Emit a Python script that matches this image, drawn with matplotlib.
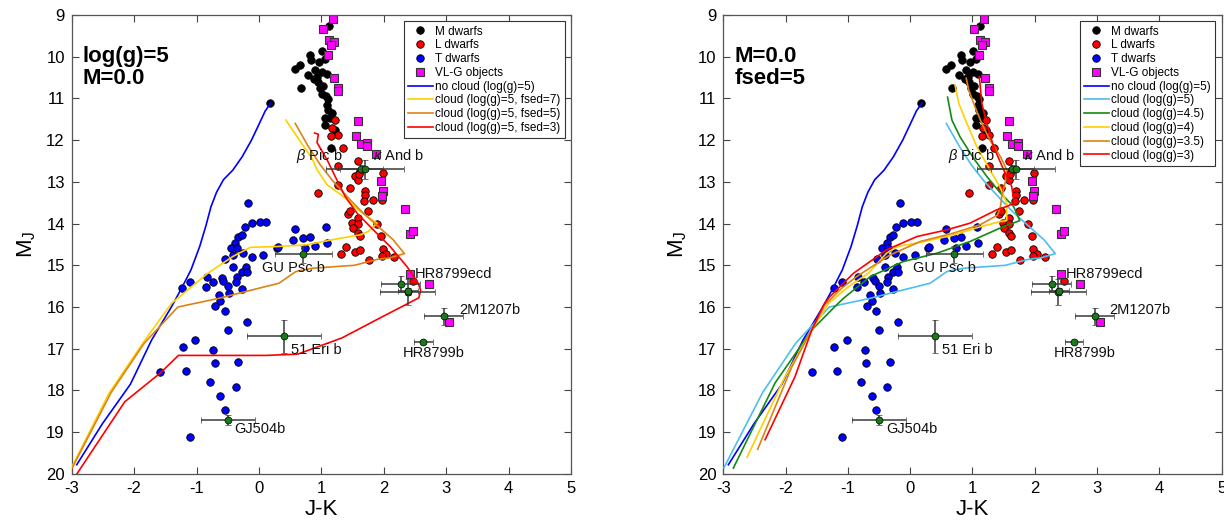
import numpy as np
import matplotlib
matplotlib.use("Agg")
from matplotlib import pyplot as plt

plt.rcParams.update({
    "font.family": ["Liberation Sans", "DejaVu Sans"],
    "font.size": 12,
    "axes.unicode_minus": False,
    "mathtext.fontset": "custom",
    "mathtext.rm": "Liberation Sans",
    "mathtext.it": "Liberation Sans:italic"})

# ---------------------------------------------------------------------------- #
# Field dwarfs (J-K, M_J)
# ---------------------------------------------------------------------------- #
m_jk = [1.12, 1.01, 0.82, 0.83, 0.96, 1.06, 0.65, 0.58, 0.90, 1.01, 1.09, 0.79, 0.88,
        0.95, 0.67, 0.98, 1.01, 1.11, 1.09, 1.11, 1.06, 1.14, 1.06, 1.22, 1.15, 0.18,
        1.17, 0.93, 1.03, 1.08]
m_mj = [9.26, 9.87, 9.97, 10.09, 10.13, 10.06, 10.21, 10.30, 10.33, 10.37, 10.41, 10.43, 10.53,
        10.61, 10.74, 10.75, 10.89, 11.02, 11.16, 11.28, 11.47, 11.48, 11.64, 11.76, 12.20, 11.10,
        11.36, 10.48, 10.70, 10.95]

l_jk = [1.22, 1.17, 1.26, 1.15, 1.35, 1.58, 1.26, 1.99, 1.62, 1.54, 1.58, 1.60, 1.27, 0.95,
        1.46, 1.70, 1.70, 1.83, 1.97, 1.69, 1.75, 1.42, 1.46, 1.58, 1.49, 1.59, 1.51, 1.58,
        1.62, 1.96, 1.89, 1.39, 1.54, 1.62, 1.31, 1.98, 2.03, 1.97, 2.17, 1.77, 2.47]
l_mj = [11.52, 11.72, 11.88, 11.90, 12.19, 12.51, 12.63, 12.78, 12.73, 12.87, 12.95, 12.81, 13.07, 13.27,
        13.15, 13.21, 13.31, 13.43, 13.43, 13.47, 13.71, 13.77, 13.69, 13.87, 13.98, 14.01, 14.11, 14.22,
        14.30, 14.30, 14.01, 14.55, 14.67, 14.63, 14.73, 14.61, 14.73, 14.78, 14.81, 14.87, 15.37]

t_jk = [-0.17, -0.12, 0.01, 0.11, -0.23, -0.33, -0.27, -0.38, -0.45, -0.35, -0.41, -0.25, -0.12,
        0.07, 0.29, -0.54, -0.41, -0.21, -0.27, -0.20, -0.36, -0.84, -0.60, -1.10, -0.74, -0.57,
        -0.37, -1.23, -0.85, -0.50, -0.27, -0.64, -0.48, -0.62, -0.70, -0.55, -0.20, -0.50, -1.02,
        -1.22, -0.73, -0.71, -1.17, -0.33, -1.58, -0.79, -0.37, -0.62, -0.55, -1.10, 0.58, 1.08,
        0.54, 0.71, 0.82, 0.30, 0.74, 0.90, 1.09]
t_mj = [13.51, 13.99, 13.97, 13.97, 14.09, 14.31, 14.28, 14.46, 14.58, 14.59, 14.75, 14.71, 14.79,
        14.75, 14.59, 14.85, 15.03, 15.05, 15.15, 15.17, 15.27, 15.29, 15.30, 15.39, 15.39, 15.37,
        15.39, 15.55, 15.51, 15.49, 15.57, 15.71, 15.67, 15.86, 15.98, 16.10, 16.36, 16.54, 16.78,
        16.96, 17.04, 17.34, 17.54, 17.32, 17.56, 17.80, 17.91, 18.14, 18.46, 19.12, 14.14, 14.09,
        14.39, 14.35, 14.33, 14.57, 14.59, 14.54, 14.47]

vlg_jk = [1.19, 1.03, 1.12, 1.20, 1.16, 1.11, 1.20, 1.26, 1.27, 1.59, 1.56, 1.64, 1.73, 1.73,
          1.88, 1.96, 1.99, 1.97, 2.34, 2.42, 2.47, 2.42, 2.73, 3.04]
vlg_mj = [9.09, 9.33, 9.59, 9.65, 9.71, 9.95, 10.51, 10.76, 10.83, 11.53, 11.90, 12.09, 12.06, 12.15,
          12.33, 12.97, 13.21, 13.35, 13.66, 14.25, 14.19, 15.21, 15.45, 16.36]

# Directly imaged companions
pl_jk = [1.64, 1.70, 0.71, 2.27, 2.38, 2.39, 2.96, 2.63, 0.40, -0.50]
pl_mj = [12.70, 12.70, 14.74, 15.45, 15.65, 15.62, 16.22, 16.83, 16.70, 18.70]
pl_jk_err = [0.35, 0.62, 0.46, 0.31, 0.44, 0.16, 0.31, 0.15, 0.59, 0.43]
pl_mj_err = [0.10, 0.23, 0.20, 0.20, 0.31, 0.08, 0.20, 0.05, 0.40, 0.12]

lab_text = [r"$\beta$ Pic b", r"$\kappa$ And b", "GU Psc b", "HR8799ecd", "2M1207b",
            "HR8799b", "51 Eri b", "GJ504b"]
lab_jk = [0.60, 1.82, 0.05, 2.50, 3.20, 2.30, 0.51, -0.39]
lab_mj = [12.38, 12.38, 15.07, 15.21, 16.07, 17.11, 17.02, 18.92]

# ---------------------------------------------------------------------------- #
# Model tracks
# ---------------------------------------------------------------------------- #
nocloud_jk = [-2.92, -2.51, -2.06, -1.72, -1.40, -1.24, -1.09, -0.95, -0.85, -0.77, -0.68,
              -0.57, -0.42, -0.27, -0.12, 0.0, 0.10, 0.19]
nocloud_mj = [19.78, 18.80, 17.85, 16.79, 15.99, 15.55, 15.11, 14.55, 14.05, 13.60, 13.25,
              12.95, 12.72, 12.40, 12.00, 11.62, 11.30, 11.11]

g5f7_jk = [-2.99, -2.40, -1.84, -1.40, -0.82, -0.42, -0.14, 0.29, 0.76, 1.20, 1.62, 1.75,
           1.89, 1.62, 1.35, 1.09, 0.93, 0.85, 0.66, 0.43]
g5f7_mj = [19.81, 18.06, 16.82, 15.91, 15.19, 14.79, 14.57, 14.55, 14.51, 14.38, 14.27, 14.19,
           13.99, 13.71, 13.35, 13.07, 12.71, 12.44, 12.03, 11.52]

g5f5_jk = [-2.99, -2.37, -1.84, -1.30, -0.64, -0.11, 0.32, 0.59, 0.86, 1.53, 1.89, 2.10, 2.33,
           2.15, 1.94, 1.67, 1.46, 1.19, 0.98, 0.79, 0.58]
g5f5_mj = [19.85, 18.05, 16.87, 16.00, 15.79, 15.59, 15.43, 15.15, 15.07, 15.00, 14.86, 14.82, 14.72,
           14.39, 14.11, 13.75, 13.43, 12.99, 12.59, 12.15, 11.60]

g5f3_jk = [-2.94, -2.15, -1.58, -1.29, 0.10, 0.62, 1.33, 1.89, 2.56, 2.59, 2.55, 2.37, 2.10,
           1.83, 1.57, 1.38, 1.22, 1.09, 0.93, 0.95, 0.89]
g5f3_mj = [20.05, 18.27, 17.58, 17.16, 17.16, 17.13, 16.74, 16.30, 15.78, 15.60, 15.43, 15.03, 14.55,
           14.15, 13.75, 13.35, 12.87, 12.47, 12.06, 11.86, 11.83]

g45_jk = [-2.84, -2.17, -1.58, -1.21, -1.07, -0.64, -0.11, 0.43, 0.96, 1.50, 1.76, 1.66, 1.45,
          1.23, 1.02, 0.80, 0.67, 0.60]
g45_mj = [19.86, 17.82, 16.55, 15.99, 15.79, 15.27, 14.91, 14.71, 14.43, 14.07, 13.93, 13.59, 13.27,
          12.87, 12.44, 11.92, 11.52, 10.97]

g4_jk = [-2.62, -2.01, -1.58, -1.31, -0.99, -0.67, -0.38, -0.21, 0.16, 0.69, 1.07, 1.45, 1.55,
         1.55, 1.45, 1.28, 1.07, 0.91, 0.78, 0.72]
g4_mj = [19.60, 17.67, 16.55, 15.91, 15.51, 15.19, 14.71, 14.55, 14.45, 14.28, 14.10, 13.95, 13.93,
         13.51, 13.15, 12.71, 12.16, 11.60, 11.12, 10.68]

g35_jk = [-2.45, -1.90, -1.58, -1.37, -1.10, -0.86, -0.32, 0.16, 0.69, 1.12, 1.40, 1.45, 1.47,
          1.53, 1.55, 1.45, 1.28, 1.15, 1.04, 0.94, 0.90]
g35_mj = [19.41, 17.43, 16.55, 15.95, 15.55, 15.27, 14.75, 14.43, 14.23, 14.03, 13.80, 13.59, 13.35,
          12.99, 12.71, 12.40, 12.00, 11.60, 11.20, 10.80, 10.52]

g3_jk = [-2.33, -1.85, -1.58, -1.39, -1.29, -0.91, -0.38, 0.11, 0.59, 0.96, 1.39, 1.55, 1.67,
         1.63, 1.50, 1.34, 1.23, 1.15, 1.11]
g3_mj = [19.18, 17.67, 16.55, 15.95, 15.75, 15.19, 14.63, 14.31, 14.15, 13.99, 13.67, 13.59, 13.51,
         13.11, 12.71, 12.16, 11.60, 11.12, 10.48]

c_blue = "#0000ff"
c_yellow = "#ffd000"
c_orange = "#dd8314"
c_red = "#ff0000"
c_sky = "#4dbeee"
c_green = "#138a13"

left_curves = [(nocloud_jk, nocloud_mj, c_blue, "no cloud (log(g)=5)"),
               (g5f7_jk, g5f7_mj, c_yellow, "cloud (log(g)=5, fsed=7)"),
               (g5f5_jk, g5f5_mj, c_orange, "cloud (log(g)=5, fsed=5)"),
               (g5f3_jk, g5f3_mj, c_red, "cloud (log(g)=5, fsed=3)")]
right_curves = [(nocloud_jk, nocloud_mj, c_blue, "no cloud (log(g)=5)"),
                (g5f5_jk, g5f5_mj, c_sky, "cloud (log(g)=5)"),
                (g45_jk, g45_mj, c_green, "cloud (log(g)=4.5)"),
                (g4_jk, g4_mj, c_yellow, "cloud (log(g)=4)"),
                (g35_jk, g35_mj, c_orange, "cloud (log(g)=3.5)"),
                (g3_jk, g3_mj, c_red, "cloud (log(g)=3)")]


def draw_panel(ax, curves, note):
    ms = 5.4
    ax.plot(m_jk, m_mj, "o", ms=ms, mfc="black", mec="black", mew=0.6, ls="none",
            label="M dwarfs", zorder=2)
    ax.plot(l_jk, l_mj, "o", ms=ms, mfc="#ff0000", mec="black", mew=0.6, ls="none",
            label="L dwarfs", zorder=2)
    ax.plot(t_jk, t_mj, "o", ms=ms, mfc="#0000ff", mec="black", mew=0.6, ls="none",
            label="T dwarfs", zorder=2)
    ax.plot(vlg_jk, vlg_mj, "s", ms=5.6, mfc="#ff00ff", mec="#333333", mew=0.8, ls="none",
            label="VL-G objects", zorder=2)

    for jk, mj, col, lab in curves:
        ax.plot(jk, mj, "-", color=col, lw=1.2, label=lab, zorder=3)

    ax.errorbar(pl_jk, pl_mj, xerr=pl_jk_err, yerr=pl_mj_err, fmt="o", ms=5,
                mfc="#1a7a1a", mec="black", mew=0.5, ecolor="#3a3a3a", elinewidth=1.1,
                capsize=2.5, capthick=1.0, zorder=4)

    for txt, x, y in zip(lab_text, lab_jk, lab_mj):
        ax.text(x, y, txt, fontsize=10.5, va="center", ha="left", color="#111111", zorder=5)

    ax.text(-2.82, 9.74, note, fontsize=16, fontweight="bold", va="top", ha="left",
            linespacing=1.08)

    ax.set_xlim(-3, 5)
    ax.set_ylim(20, 9)
    ax.set_xticks(np.arange(-3, 6, 1))
    ax.set_yticks(np.arange(9, 21, 1))
    ax.tick_params(direction="in", length=5, width=0.8, top=True, right=True,
                   labelsize=12, color="#444444", pad=5)
    for sp in ax.spines.values():
        sp.set_color("#555555")
        sp.set_linewidth(0.9)
    ax.set_xlabel("J-K", fontsize=16, labelpad=2)
    ax.set_ylabel(r"M$_\mathrm{J}$", fontsize=16, labelpad=6)

    leg = ax.legend(loc="upper right", fontsize=8.5, handlelength=2.1, handletextpad=0.2,
                    labelspacing=0.15, borderpad=0.35, borderaxespad=0.55,
                    fancybox=False, framealpha=1, edgecolor="#333333", numpoints=1)
    leg.get_frame().set_linewidth(0.8)


fig = plt.figure(figsize=(12.24, 5.26), dpi=100)
ax1 = fig.add_axes([0.0586, 0.099, 0.408, 0.8726])
ax2 = fig.add_axes([0.591, 0.099, 0.407, 0.8726])

draw_panel(ax1, left_curves, "log(g)=5\nM=0.0")
draw_panel(ax2, right_curves, "M=0.0\nfsed=5")

fig.savefig("out.png", dpi=100)
